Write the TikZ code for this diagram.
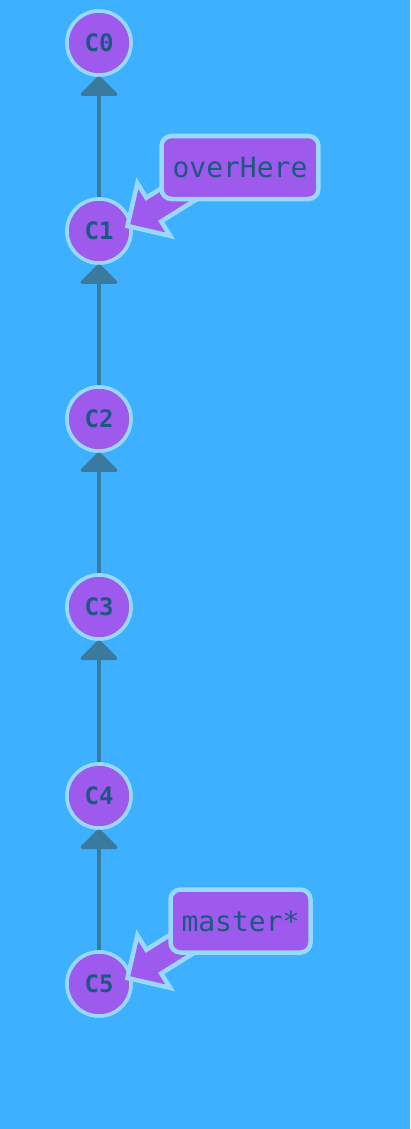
\documentclass[tikz,border=0pt]{standalone}
\usepackage{fontspec}
\newfontfamily\gitmono{DejaVu Sans Mono}
\usetikzlibrary{arrows.meta,calc}
\definecolor{bgblue}{RGB}{61,176,255}
\definecolor{nodepurple}{RGB}{157,90,236}
\definecolor{rimblue}{RGB}{153,216,255}
\definecolor{txtblue}{RGB}{28,88,130}
\definecolor{edgeblue}{RGB}{58,122,158}
\begin{document}
\begin{tikzpicture}[x=1pt,y=1pt,
  commit/.style={circle,fill=nodepurple,draw=rimblue,line width=3.5pt,minimum size=64pt,inner sep=0pt,
    text=txtblue,font=\gitmono\bfseries\fontsize{24}{24}\selectfont},
  parentedge/.style={draw=edgeblue,line width=3.5pt,-{Triangle[width=41pt 0,length=21pt 0,round]}},
  branchbox/.style={rectangle,rounded corners=10pt,fill=nodepurple,draw=rimblue,line width=4.5pt,
    minimum height=63pt,inner xsep=11pt,text=txtblue,font=\gitmono\fontsize{28}{28}\selectfont},
  fatarrow/.style={fill=nodepurple,draw=rimblue,line width=4.5pt,miter limit=10}]
\fill[bgblue] (0,0) rectangle (410,-1129);
\useasboundingbox (0,0) rectangle (410,-1129);
\node[commit] (C0) at (99,-43) {C0};
\node[commit] (C1) at (99,-231) {C1};
\node[commit] (C2) at (99,-419) {C2};
\node[commit] (C3) at (99,-607) {C3};
\node[commit] (C4) at (99,-796) {C4};
\node[commit] (C5) at (99,-984) {C5};
\path[parentedge] (C1.north) -- ([yshift=1pt]C0.south);
\path[parentedge] (C2.north) -- ([yshift=1pt]C1.south);
\path[parentedge] (C3.north) -- ([yshift=1pt]C2.south);
\path[parentedge] (C4.north) -- ([yshift=1pt]C3.south);
\path[parentedge] (C5.north) -- ([yshift=1pt]C4.south);
% redraw commits over edges
\node[commit] at (C0) {C0};
\node[commit] at (C1) {C1};
\node[commit] at (C2) {C2};
\node[commit] at (C3) {C3};
\node[commit] at (C4) {C4};
\node[commit] at (C5) {C5};
\coordinate (tipA) at ($(C1)+(28.5,5)$);
\coordinate (tipB) at ($(C5)+(28.5,6)$);
\foreach \t in {tipA,tipB}{
  \begin{scope}[shift={(\t)},rotate=32]
    \draw[fatarrow] (0,0) -- (31,31) -- (31,14) -- (90,14) -- (90,-14) -- (31,-14) -- (31,-31) -- cycle;
  \end{scope}
}
\node[branchbox] (overHere) at (240,-167.5) {overHere};
\node[branchbox] (master) at (240.5,-921) {master*};
\end{tikzpicture}
\end{document}
